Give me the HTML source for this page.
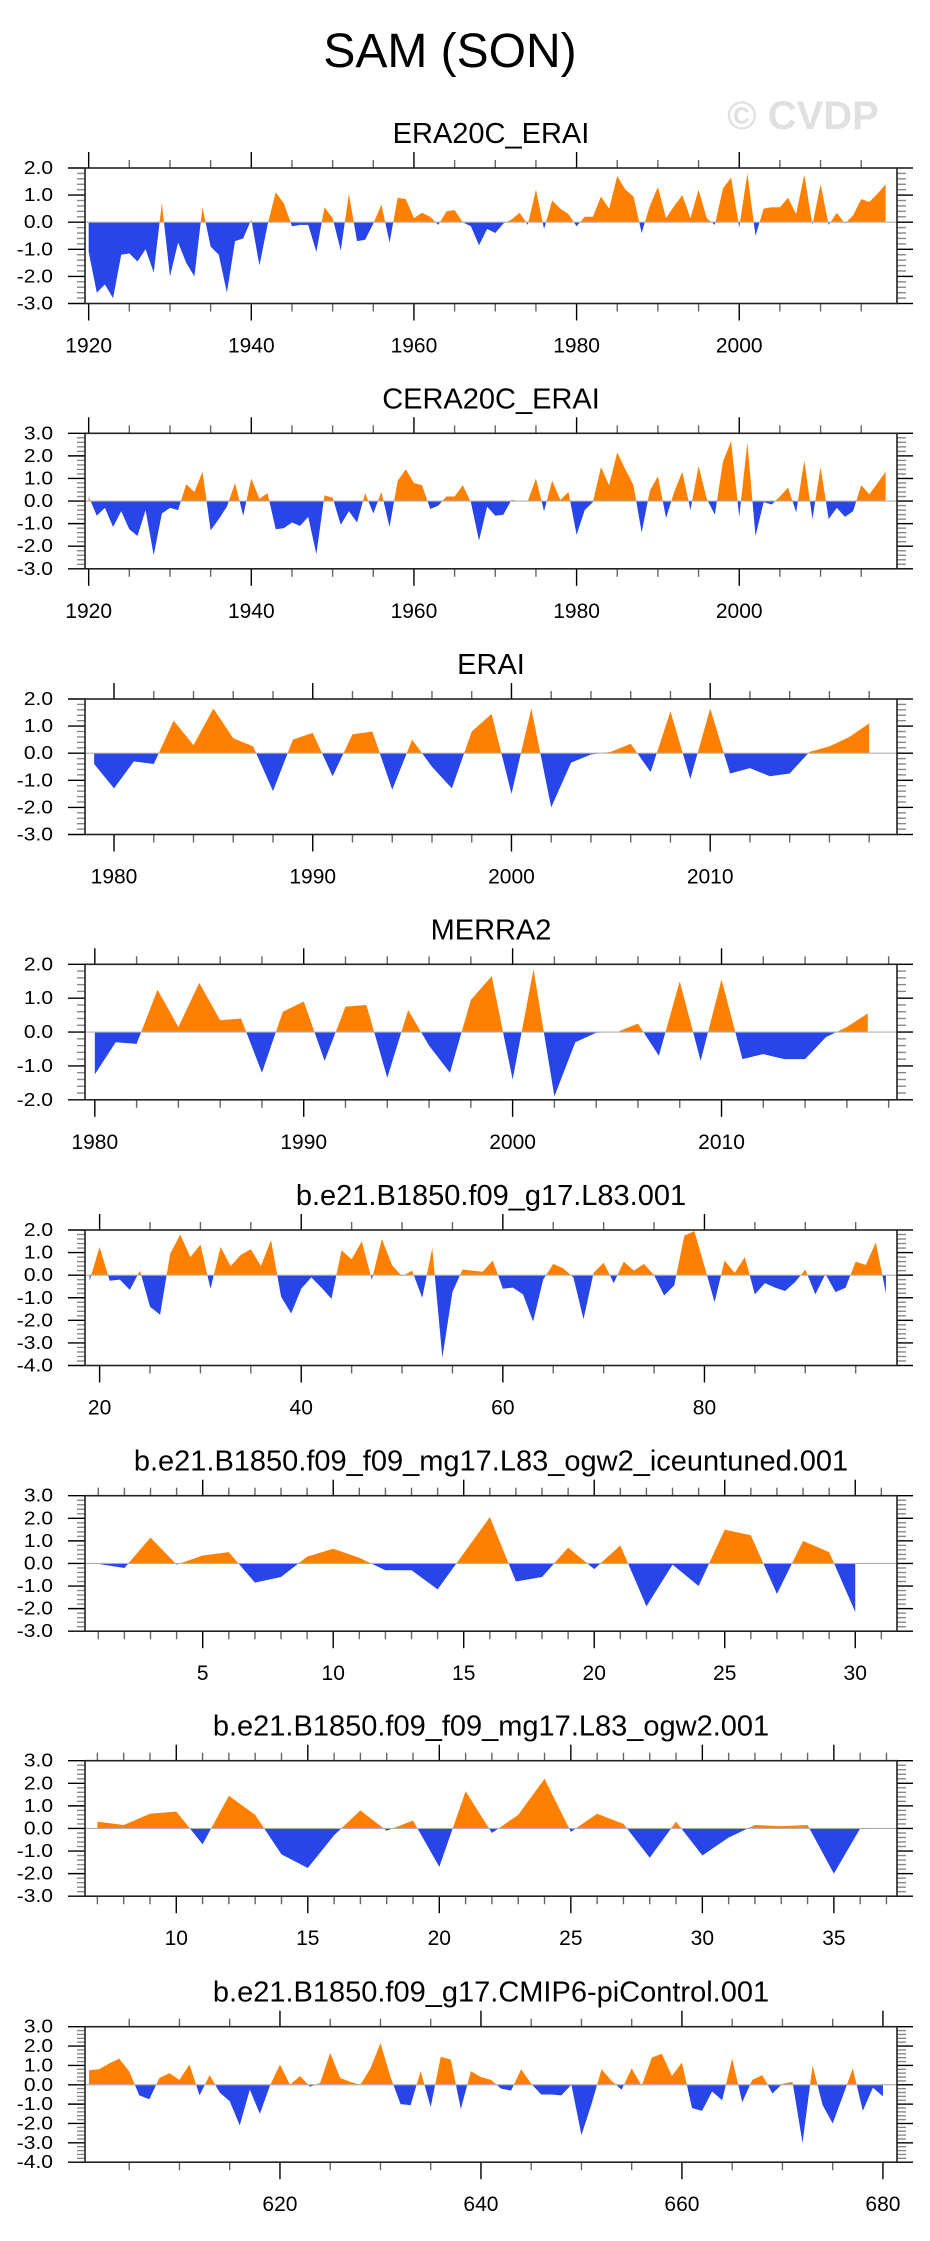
<!DOCTYPE html>
<html><head><meta charset="utf-8"><title>SAM (SON)</title>
<style>
html,body{margin:0;padding:0;background:#fff;}
svg{display:block;font-family:"Liberation Sans",Arial,sans-serif;}
</style></head>
<body>
<svg id="fig" width="930" height="2241" viewBox="0 0 930 2241" xmlns="http://www.w3.org/2000/svg">
<rect width="930" height="2241" fill="#fff"/>
<text x="450" y="67" font-size="48" text-anchor="middle" fill="#000">SAM (SON)</text>
<text x="803" y="129" font-size="40" font-weight="bold" text-anchor="middle" fill="#e0e0e0">© CVDP</text>
</svg>
<script>
// ---- data ----
const era20cYears = [1920, 2018];
const era20cValues = [-1.1,-2.6,-2.3,-2.8,-1.2,-1.15,-1.45,-1.0,-1.85,0.7,-2.0,-0.75,-1.5,-2.0,0.55,-0.9,-1.2,-2.6,-0.7,-0.6,0.1,-1.6,-0.1,1.1,0.7,-0.15,-0.1,-0.1,-1.1,0.55,0.15,-1.05,1.05,-0.7,-0.65,-0.05,0.65,-0.75,0.9,0.85,0.15,0.35,0.2,-0.1,0.4,0.45,0.0,-0.15,-0.85,-0.25,-0.4,-0.05,0.1,0.35,-0.1,1.2,-0.25,0.8,0.5,0.3,-0.15,0.2,0.2,0.95,0.5,1.7,1.2,0.95,-0.4,0.6,1.3,0.15,0.6,1.0,0.15,1.2,0.15,-0.1,1.25,1.65,-0.2,1.8,-0.5,0.5,0.55,0.55,0.9,0.3,1.75,-0.1,1.4,-0.1,0.35,-0.05,0.25,0.85,0.75,1.05,1.4];
const cera20cYears = [1920, 2018];
const cera20cValues = [0.2,-0.65,-0.3,-1.15,-0.45,-1.25,-1.55,-0.4,-2.4,-0.55,-0.3,-0.4,0.75,0.4,1.3,-1.3,-0.8,-0.25,0.8,-0.65,1.0,0.1,0.35,-1.25,-1.2,-0.95,-1.1,-0.7,-2.35,0.25,0.15,-1.05,-0.45,-0.95,0.35,-0.55,0.4,-1.15,0.9,1.4,0.8,0.7,-0.35,-0.2,0.2,0.2,0.7,-0.05,-1.75,-0.25,-0.65,-0.6,0.05,0.0,0.0,1.0,-0.45,0.9,0.05,0.4,-1.5,-0.4,-0.05,1.5,0.7,2.15,1.4,0.7,-1.4,0.45,1.1,-0.75,0.4,1.3,-0.4,1.55,0.1,-0.6,1.75,2.65,-0.7,2.6,-1.55,-0.05,-0.15,0.2,0.6,-0.5,1.8,-0.8,1.5,-0.8,-0.3,-0.7,-0.45,0.7,0.3,0.8,1.3];
const eraiYears = [1979, 2018];
const eraiValues = [-0.4,-1.3,-0.3,-0.4,1.2,0.3,1.65,0.55,0.25,-1.4,0.5,0.75,-0.85,0.7,0.8,-1.35,0.5,-0.5,-1.3,0.8,1.45,-1.5,1.65,-2.0,-0.35,-0.05,0.05,0.35,-0.7,1.55,-0.95,1.65,-0.75,-0.55,-0.85,-0.75,0.05,0.25,0.6,1.1];
const merra2Years = [1980, 2017];
const merra2Values = [-1.25,-0.3,-0.35,1.25,0.15,1.45,0.35,0.4,-1.2,0.6,0.9,-0.85,0.75,0.8,-1.35,0.65,-0.4,-1.2,0.95,1.65,-1.4,1.85,-1.9,-0.3,-0.02,0.0,0.25,-0.7,1.5,-0.85,1.55,-0.8,-0.65,-0.8,-0.8,-0.15,0.15,0.55];
const l83Years = [19, 98];
const l83Values = [-0.25,1.25,-0.25,-0.2,-0.65,0.2,-1.4,-1.75,0.95,1.8,0.8,1.35,-0.6,1.25,0.4,0.9,1.15,0.4,1.55,-0.95,-1.7,-0.6,-0.1,-0.55,-1.05,1.1,0.7,1.5,-0.2,1.6,0.45,-0.05,0.2,-1.0,1.2,-3.65,-0.75,0.25,0.2,0.15,0.65,-0.6,-0.55,-0.85,-2.05,-0.2,0.5,0.3,-0.1,-1.95,0.1,0.55,-0.35,0.6,0.2,0.5,0.0,-0.9,-0.45,1.75,1.95,0.4,-1.2,0.65,0.1,0.8,-0.85,-0.35,-0.55,-0.7,-0.3,0.25,-0.85,0.05,-0.75,-0.55,0.6,0.45,1.45,-0.8];
const iceYears = [1, 30];
const iceValues = [-0.02,-0.2,1.15,-0.05,0.35,0.5,-0.85,-0.6,0.3,0.65,0.25,-0.3,-0.3,-1.15,0.45,2.05,-0.8,-0.6,0.7,-0.25,0.8,-1.9,-0.05,-1.0,1.5,1.25,-1.35,1.0,0.5,-2.15];
const ogwYears = [7, 36];
const ogwValues = [0.3,0.15,0.65,0.75,-0.7,1.45,0.6,-1.15,-1.75,-0.3,0.8,-0.1,0.35,-1.7,1.65,-0.2,0.6,2.2,-0.15,0.65,0.2,-1.3,0.3,-1.2,-0.4,0.15,0.1,0.15,-2.0,0.0];
const piYears = [601, 680];
const piValues = [0.75,0.8,1.1,1.35,0.7,-0.55,-0.75,0.35,0.6,0.25,1.05,-0.55,0.5,-0.4,-0.85,-2.1,-0.25,-1.5,-0.05,1.05,0.0,0.45,-0.1,0.1,1.65,0.35,0.15,0.0,0.85,2.15,0.4,-1.0,-1.05,0.7,-1.15,1.45,1.3,-1.25,0.7,0.4,0.25,-0.2,-0.3,0.8,0.05,-0.5,-0.5,-0.55,0.0,-2.6,-1.0,0.8,0.2,-0.25,0.85,-0.05,1.4,1.6,0.45,1.15,-1.2,-1.35,-0.35,-0.8,1.35,-0.9,0.25,0.5,-0.45,0.05,0.15,-3.0,1.0,-1.05,-2.0,-0.6,0.85,-1.35,-0.15,-0.6];

const panelTitles = ["ERA20C_ERAI","CERA20C_ERAI","ERAI","MERRA2","b.e21.B1850.f09_g17.L83.001","b.e21.B1850.f09_f09_mg17.L83_ogw2_iceuntuned.001","b.e21.B1850.f09_f09_mg17.L83_ogw2.001","b.e21.B1850.f09_g17.CMIP6-piControl.001"];
const yRanges = [[-3,2],[-3,3],[-3,2],[-2,2],[-4,2],[-3,3],[-3,3],[-4,3]];
const xRanges = [[1919.55,2019.4],[1919.55,2019.4],[1978.54,2019.4],[1979.53,2018.4],[18.55,99.1],[0.49,31.6],[6.53,37.4],[600.6,681.4]];
const majorTicks = [[1920,1940,1960,1980,2000],[1920,1940,1960,1980,2000],[1980,1990,2000,2010],[1980,1990,2000,2010],[20,40,60,80],[5,10,15,20,25,30],[10,15,20,25,30,35],[620,640,660,680]];
const minorSteps = [5,5,2,2,5,1,1,5];
const seriesYears = [era20cYears,cera20cYears,eraiYears,merra2Years,l83Years,iceYears,ogwYears,piYears];
const seriesValues = [era20cValues,cera20cValues,eraiValues,merra2Values,l83Values,iceValues,ogwValues,piValues];
const panelTops = [168,433.3,699,964.3,1230,1495.7,1760.7,2026.7];

// ---- drawing ----
const NS = "http://www.w3.org/2000/svg";
const svg = document.getElementById('fig');
const L = 85, R = 897, H = 135.5;
function mk(tag, attrs, parent){const e=document.createElementNS(NS,tag);for(const k in attrs)e.setAttribute(k,attrs[k]);(parent||svg).appendChild(e);return e;}

panelTitles.forEach((title, p) => {
  const top = panelTops[p], bot = top + H;
  const [y0, y1] = yRanges[p], [x0, x1] = xRanges[p];
  const sx = v => L + (v - x0) / (x1 - x0) * (R - L);
  const sy = v => bot - (v - y0) / (y1 - y0) * H;
  const g = mk('g', {});
  
  

  const t = mk('text', {x: (L + R) / 2, y: top - 25, 'font-size': 29, 'text-anchor': 'middle', fill: '#000'}, g);
  
  
  t.textContent = title;

  const yrs = seriesYears[p], vals = seriesValues[p];
  const first = yrs[0];
  let d = 'M' + sx(first) + ',' + sy(0);
  vals.forEach((v, i) => { d += ' L' + sx(first + i).toFixed(2) + ',' + sy(v).toFixed(2); });
  d += ' L' + sx(first + vals.length - 1) + ',' + sy(0) + ' Z';
  const cidP = 'cp' + p, cidN = 'cn' + p;
  const defs = mk('defs', {}, g);
  const c1 = mk('clipPath', {id: cidP}, defs); mk('rect', {x: L, y: top, width: R - L, height: sy(0) - top}, c1);
  const c2 = mk('clipPath', {id: cidN}, defs); mk('rect', {x: L, y: sy(0), width: R - L, height: bot - sy(0)}, c2);
  const pos = mk('path', {d: d, fill: '#ff8000', 'clip-path': 'url(#' + cidP + ')'}, g);
  
  
  const neg = mk('path', {d: d, fill: '#2845ea', 'clip-path': 'url(#' + cidN + ')'}, g);
  
  
  const zl = mk('line', {x1: L, x2: R, y1: sy(0), y2: sy(0), stroke: '#b0b0b0', 'stroke-width': 1.2}, g);
  
  

  const step = minorSteps[p];
  for (let v = Math.ceil(x0 / step) * step; v <= x1; v += step) {
    const x = sx(v), maj = majorTicks[p].includes(v);
    mk('line', {x1: x, x2: x, y1: top, y2: top - (maj ? 16 : 8), stroke: maj ? '#000' : '#666', 'stroke-width': 1.4}, g);
    mk('line', {x1: x, x2: x, y1: bot, y2: bot + (maj ? 17 : 8), stroke: maj ? '#000' : '#666', 'stroke-width': 1.4}, g);
  }
  majorTicks[p].forEach(v => {
    const lt = mk('text', {x: sx(v), y: bot + 49, 'font-size': 21, 'text-anchor': 'middle', fill: '#000'}, g);
    
    
    lt.textContent = String(v);
  });
  for (let k = Math.round(y0 * 5); k <= Math.round(y1 * 5); k++) {
    const v = k / 5, y = sy(v), maj = (k % 5 === 0);
    mk('line', {x1: L, x2: L - (maj ? 17 : 8), y1: y, y2: y, stroke: maj ? '#000' : '#888', 'stroke-width': 1.4}, g);
    mk('line', {x1: R, x2: R + (maj ? 16 : 9), y1: y, y2: y, stroke: maj ? '#000' : '#888', 'stroke-width': 1.4}, g);
    if (maj) {
      const yt = mk('text', {x: 0, y: 0, 'font-size': 21, 'text-anchor': 'end', fill: '#000', transform: 'translate(53,' + (y + 6) + ') scale(1,0.86)'}, g);
      
      
      yt.textContent = v.toFixed(1);
    }
  }
  const border = mk('rect', {x: L, y: top, width: R - L, height: H, fill: 'none', stroke: '#222', 'stroke-width': 1.6}, g);
  
  
});
</script>
</body></html>
